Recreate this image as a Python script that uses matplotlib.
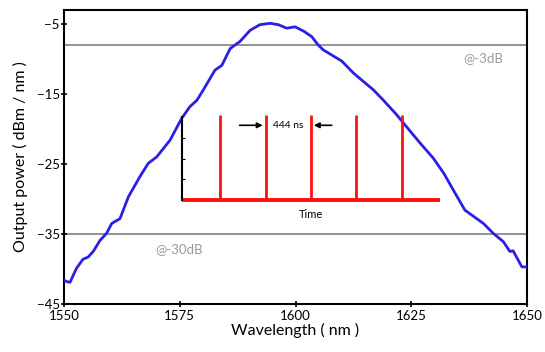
import matplotlib
matplotlib.use("Agg")
import matplotlib.pyplot as plt

plt.rcParams['font.family'] = ['Lato', 'DejaVu Sans']

# Main spectrum (wavelength nm, output power dBm/nm)
wavelength = [1550.0, 1550.6, 1551.3, 1552.7, 1554.1, 1555.2, 1556.3, 1557.8, 1559.2,
              1560.3, 1562.1, 1563.9, 1566.4, 1568.2, 1570.0, 1572.9, 1575.4, 1577.2,
              1578.7, 1580.1, 1582.6, 1584.1, 1585.9, 1588.0, 1590.2, 1592.3, 1594.5,
              1596.3, 1598.1, 1599.9, 1601.7, 1603.5, 1604.9, 1606.0, 1608.5, 1610.0,
              1612.5, 1616.8, 1619.0, 1621.9, 1624.0, 1626.9, 1629.8, 1632.0, 1634.5,
              1636.6, 1640.6, 1642.7, 1644.9, 1646.3, 1647.0, 1648.9, 1649.9]
power = [-41.6, -41.8, -41.9, -39.9, -38.6, -38.3, -37.5, -35.9, -34.9,
         -33.5, -32.8, -29.7, -26.8, -24.9, -24.0, -21.6, -18.5, -16.8,
         -15.9, -14.4, -11.6, -10.9, -8.5, -7.5, -5.9, -5.1, -4.9,
         -5.1, -5.6, -5.4, -6.0, -6.8, -8.0, -8.7, -9.7, -10.3,
         -12.0, -14.4, -15.9, -18.0, -19.7, -22.0, -24.2, -26.3, -29.2,
         -31.6, -33.5, -34.9, -36.1, -37.5, -37.4, -39.7, -39.7]

ref_levels = [-8, -35]
ref_labels = ["@-3dB", "@-30dB"]

xticks = [1550, 1575, 1600, 1625, 1650]
yticks = [-5, -15, -25, -35, -45]

# Inset pulse train (time in ns)
pulse_times = [371, 815, 1259, 1703, 2147]
pulse_heights = [1.02, 1.02, 1.02, 1.02, 1.02]
time_range = [0, 2518]
period_label = "444 ns"

fig = plt.figure(figsize=(5.45, 3.52), dpi=100)
ax = fig.add_axes([64/545, 1-304/352, 463/545, 294/352])

for lvl in ref_levels:
    ax.axhline(lvl, color='#808080', lw=1.2, zorder=1)
ax.plot(wavelength, power, color='#2a1fe6', lw=2.0, zorder=3)

ax.set_xlim(1550, 1650)
ax.set_ylim(-45, -3)
ax.set_xticks(xticks)
ax.set_yticks(yticks)
ax.tick_params(direction='inout', length=4, width=1.2, labelsize=9.5, colors='black')
ax.tick_params(axis='x', pad=2)
ax.tick_params(axis='y', pad=1)
for s in ax.spines.values():
    s.set_linewidth(1.5)
ax.set_xlabel("Wavelength ( nm )", fontsize=11.5, labelpad=1)
ax.set_ylabel("Output power ( dBm / nm )", fontsize=11.5, labelpad=6)

ax.text(1640.5, -9.8, ref_labels[0], color='#9a9a9a', fontsize=9.5, ha='center', va='center')
ax.text(1574.8, -37.1, ref_labels[1], color='#9a9a9a', fontsize=9.5, ha='center', va='center')

# Inset
ins = fig.add_axes([182/545, 1-200/352, 258/545, 83/352])
ins.patch.set_alpha(0)
ins.hlines(0, time_range[0], time_range[1], color='#ff1010', lw=2.8, zorder=2, clip_on=False)
ins.vlines(pulse_times, 0, pulse_heights, color='#ff1010', lw=2.0, zorder=2, clip_on=False)
ins.set_xlim(time_range)
ins.set_ylim(0, 1)
for k in ['top', 'right', 'bottom']:
    ins.spines[k].set_visible(False)
ins.spines['left'].set_linewidth(1.5)
ins.set_xticks([])
ins.set_yticks([0.25, 0.5, 0.75])
ins.tick_params(axis='y', direction='in', length=2.5, width=0.8, labelleft=False)
ins.text(sum(time_range)/2, -0.18, "Time", fontsize=8, ha='center', va='center')
ins.text((pulse_times[1] + pulse_times[2]) / 2, 0.9, period_label, fontsize=7.5,
         ha='center', va='center')
ins.annotate("", xy=(pulse_times[1], 0.9), xytext=(pulse_times[1] - 280, 0.9),
             arrowprops=dict(arrowstyle='-|>', color='black', lw=1.2, mutation_scale=8))
ins.annotate("", xy=(pulse_times[2], 0.9), xytext=(pulse_times[2] + 230, 0.9),
             arrowprops=dict(arrowstyle='-|>', color='black', lw=1.2, mutation_scale=8))

fig.savefig("out.png", dpi=100)
